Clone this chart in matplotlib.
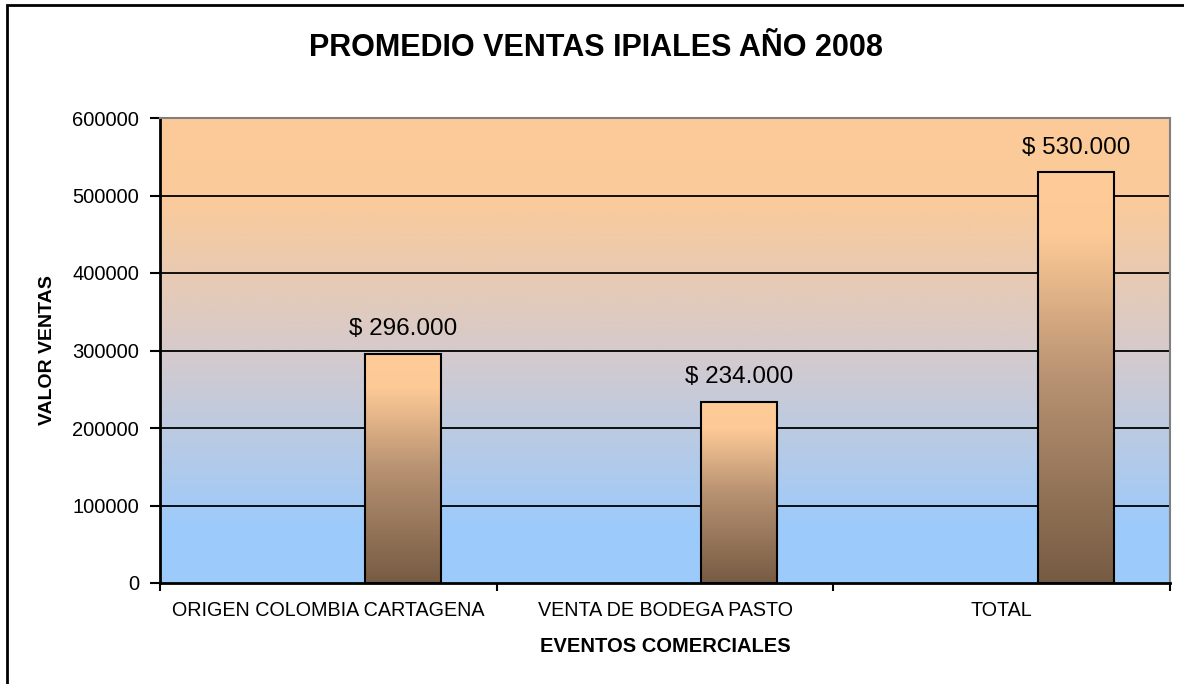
import matplotlib.pyplot as plt
import numpy as np
from matplotlib.colors import LinearSegmentedColormap
from matplotlib.patches import Rectangle
from matplotlib.ticker import FixedLocator

plt.rcParams['font.family'] = ['Liberation Sans', 'DejaVu Sans']

categorias = ["ORIGEN COLOMBIA CARTAGENA", "VENTA DE BODEGA PASTO", "TOTAL"]
ventas = [296000, 234000, 530000]
etiquetas = ["$ 296.000", "$ 234.000", "$ 530.000"]
yticks = [0, 100000, 200000, 300000, 400000, 500000, 600000]

fig = plt.figure(figsize=(11.84, 6.84), dpi=100)
ax = fig.add_axes([160/1184, 1-583/684, 1010/1184, 465/684])

x = np.arange(len(categorias))
ymax = 600000

# fondo degradado (naranja arriba, azul abajo)
fondo = LinearSegmentedColormap.from_list(
    "fondo", [(0, "#9CCBFC"), (0.12, "#9DCBFB"), (0.5, "#D6CACC"),
              (0.82, "#FACA9B"), (1, "#FDCB98")])
grad = np.linspace(0, 1, 256).reshape(-1, 1)
ax.imshow(grad, cmap=fondo, aspect="auto", origin="lower",
          extent=[-0.5, len(categorias) - 0.5, 0, ymax], zorder=0)

for yv in yticks[1:-1]:
    ax.axhline(yv, color="black", lw=1.3, zorder=1)

# barras con degradado
barra = LinearSegmentedColormap.from_list(
    "barra", [(0, "#765B43"), (0.5, "#B89272"), (0.85, "#FDCA96"), (1, "#FFCC99")])
ancho = 0.226
desp = 0.221
for xi, v, lab in zip(x, ventas, etiquetas):
    x0 = xi + desp - ancho / 2
    ax.imshow(grad, cmap=barra, aspect="auto", origin="lower",
              extent=[x0, x0 + ancho, 0, v], zorder=2)
    ax.add_patch(Rectangle((x0, 0), ancho, v, fill=False, ec="black", lw=1.5, zorder=3))
    ax.text(xi + desp, v + 17000, lab, ha="center", va="bottom", fontsize=17.5, zorder=4)

ax.set_xlim(-0.5, len(categorias) - 0.5)
ax.set_ylim(0, ymax)
ax.set_yticks(yticks)
ax.set_yticklabels([str(t) for t in yticks], fontsize=14.5)
ax.set_xticks(x)
ax.set_xticklabels(categorias, fontsize=14.2)
ax.xaxis.set_minor_locator(FixedLocator(np.arange(-0.5, len(categorias), 1)))
ax.tick_params(axis="x", which="major", length=0, pad=13)
ax.tick_params(axis="x", which="minor", length=6, width=1.5, direction="out")
ax.tick_params(axis="y", length=7, width=1.5, pad=8)

for s in ["left", "bottom"]:
    ax.spines[s].set_color("black")
    ax.spines[s].set_linewidth(2)
for s in ["top", "right"]:
    ax.spines[s].set_color("#808080")
    ax.spines[s].set_linewidth(1.5)

ax.set_xlabel("EVENTOS COMERCIALES", fontsize=14.5, fontweight="bold", labelpad=12)
ax.set_ylabel("VALOR VENTAS", fontsize=14, fontweight="bold", labelpad=12)
fig.text(596/1184, 1-48/684, "PROMEDIO VENTAS IPIALES AÑO 2008",
         ha="center", va="center", fontsize=22, fontweight="bold")

# marco del gráfico
fig.patches.append(Rectangle((7/1184, -0.1), 1.2, 1 - 5/684 + 0.1, transform=fig.transFigure,
                             fill=False, ec="black", lw=2))

fig.savefig("out.png", dpi=100)
